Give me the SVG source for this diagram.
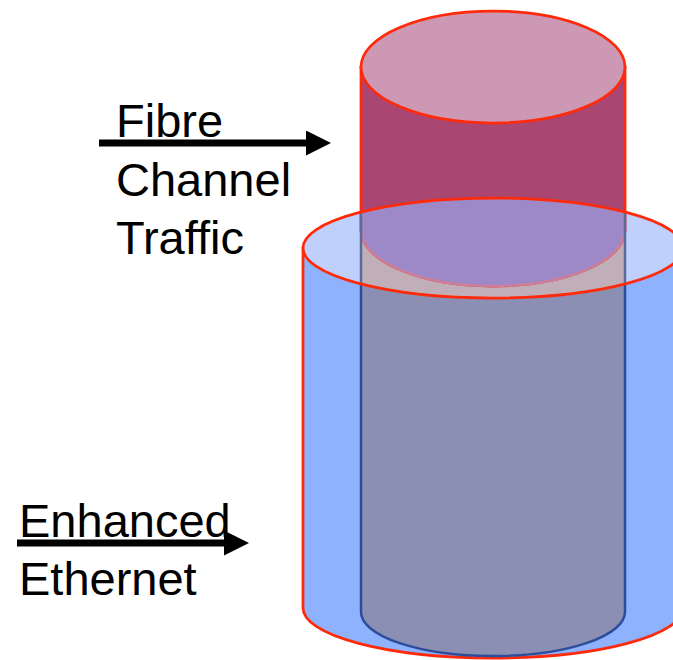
<svg xmlns="http://www.w3.org/2000/svg" width="673" height="660" viewBox="0 0 673 660">
  <style>
    .label { font-family: "Liberation Sans", Arial, sans-serif; font-size: 47px; fill: #000; }
    .red { stroke: #ff2a0a; stroke-width: 2.75; }
    .blueline { stroke: #2d4d9b; stroke-width: 2.5; }
  </style>
  <defs>
    <clipPath id="bigTopClip">
      <ellipse cx="493" cy="248" rx="190" ry="50"/>
    </clipPath>
    <marker id="head" viewBox="0 0 25 25" refX="0" refY="12.5" markerWidth="25" markerHeight="25" markerUnits="userSpaceOnUse" orient="auto">
      <path d="M0,0 L25,12.5 L0,25 Z" fill="#000"/>
    </marker>
  </defs>

  <!-- Enhanced Ethernet: large cylinder -->
  <g id="ethernet-cylinder">
    <path class="red" d="M303,248 L303,608 A190,50 0 0 0 683,608 L683,248 Z" fill="#8eb2fe"/>
  </g>

  <!-- inner column carried through the large cylinder -->
  <g id="fc-column">
    <path class="blueline" d="M361,230 L361,612 A132,44 0 0 0 625,612 L625,230" fill="#8b8fb3"/>
  </g>

  <!-- top face of the large cylinder -->
  <g id="ethernet-top">
    <ellipse cx="493" cy="248" rx="190" ry="50" fill="#c0d0fd"/>
    <rect x="361" y="196" width="264" height="106" fill="#c0afb9" clip-path="url(#bigTopClip)"/>
  </g>

  <!-- Fibre Channel: small cylinder -->
  <g id="fc-cylinder">
    <path class="red" d="M361,67 L361,230 A132,56 0 0 0 625,230 L625,67 Z" fill="#a94672"/>
    <g clip-path="url(#bigTopClip)">
      <path d="M361,67 L361,230 A132,56 0 0 0 625,230 L625,67 Z" fill="#9d89c7" stroke="#c8809c" stroke-width="2.5"/>
      <line x1="361" y1="190" x2="361" y2="305" stroke="#5b6a9b" stroke-width="2.5"/>
      <line x1="625" y1="190" x2="625" y2="305" stroke="#5b6a9b" stroke-width="2.5"/>
    </g>
    <ellipse class="red" cx="493" cy="67" rx="132" ry="56" fill="#cc98b4"/>
  </g>

  <!-- rim of the large cylinder top -->
  <g id="ethernet-rim">
    <ellipse class="red" cx="493" cy="248" rx="190" ry="50" fill="none"/>
  </g>

  <!-- labels -->
  <g id="fc-label">
    <text class="label" x="116" y="137">Fibre</text>
    <text class="label" x="116" y="196">Channel</text>
    <text class="label" x="116" y="254">Traffic</text>
  </g>
  <g id="ee-label">
    <text class="label" x="19" y="537">Enhanced</text>
    <text class="label" x="19" y="595">Ethernet</text>
  </g>

  <!-- connectors -->
  <g id="connectors">
    <line x1="99" y1="143" x2="306" y2="143" stroke="#000" stroke-width="7" marker-end="url(#head)"/>
    <line x1="17" y1="543" x2="224" y2="543" stroke="#000" stroke-width="7" marker-end="url(#head)"/>
  </g>
</svg>
